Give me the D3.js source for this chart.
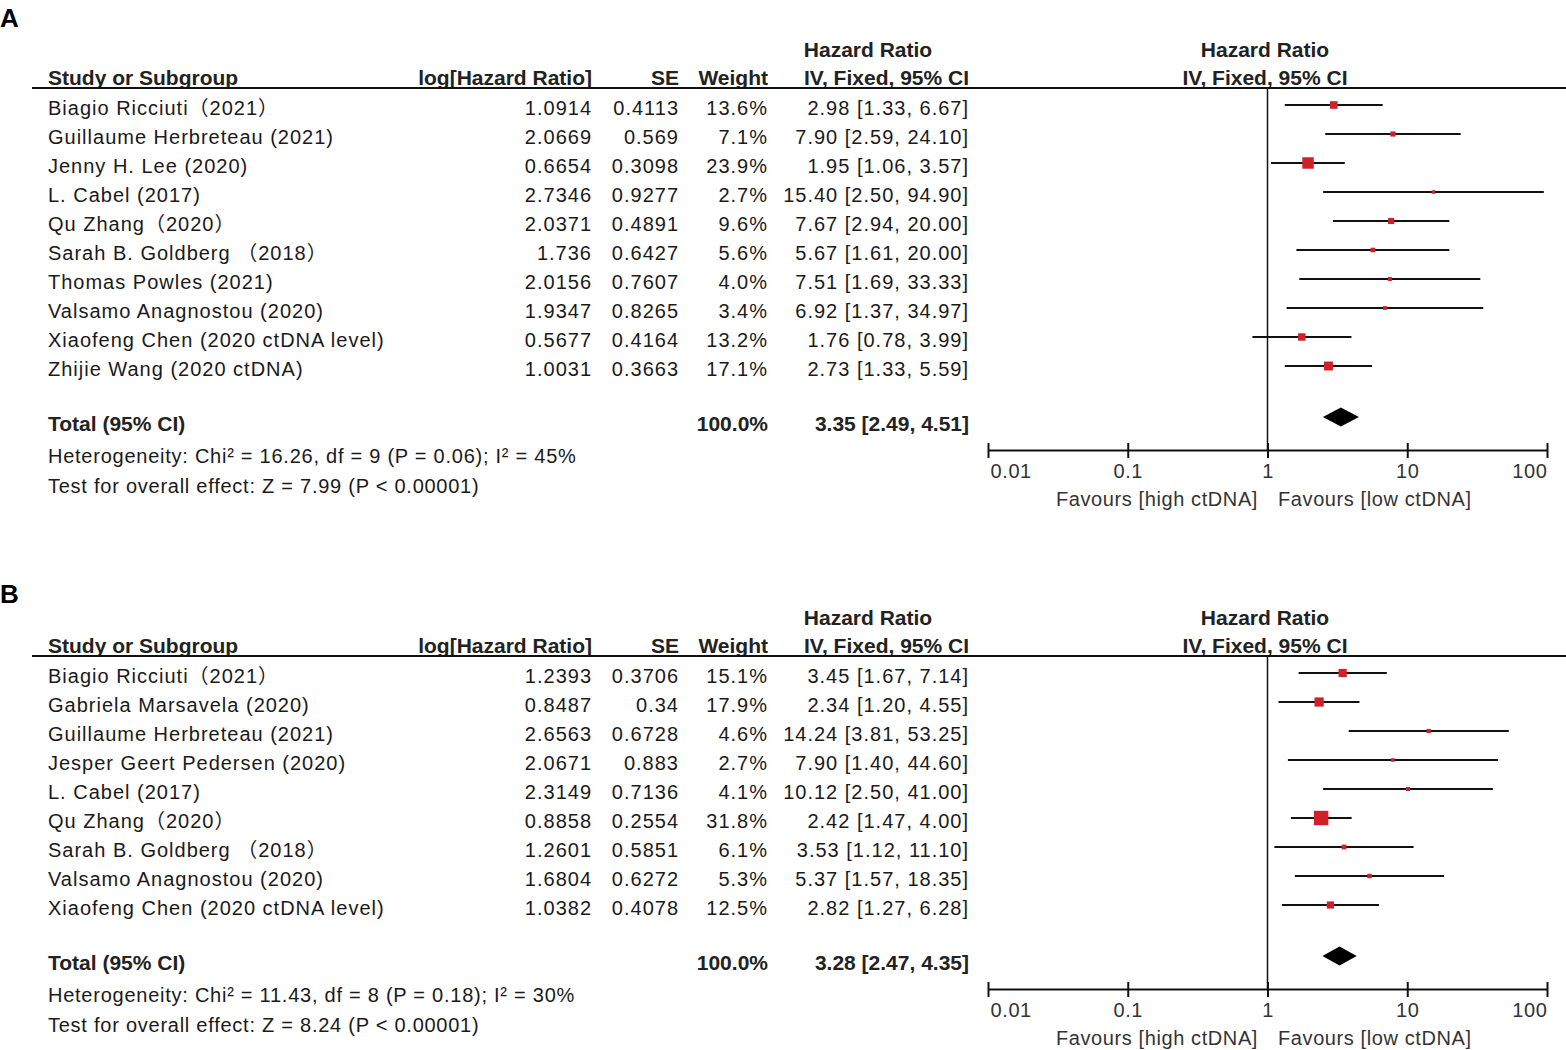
<!DOCTYPE html>
<meta charset="utf-8">
<style>
  body {
    margin: 0;
    background: #fff;
  }
  svg text {
    font-family: "Liberation Sans", Arial, "Noto Sans CJK SC", sans-serif;
  }
  .row { font-size: 20px; letter-spacing: 1px; fill: #1a1a1a; }
  .hd { font-size: 21px; font-weight: bold; fill: #222; }
  .foot { font-size: 20px; letter-spacing: 0.75px; fill: #1a1a1a; }
  .tick-lab { font-size: 20px; letter-spacing: 0.6px; fill: #333; }
</style>
<body>
  <script src="https://d3js.org/d3.v7.min.js"></script>
  <div id="chart"></div>
  <script>
    const width = 1566;
    const height = 1050;

    // ---- panel A data ----
    const studiesA = ["Biagio Ricciuti（2021）", "Guillaume Herbreteau (2021)", "Jenny H. Lee (2020)",
      "L. Cabel (2017)", "Qu Zhang（2020）", "Sarah B. Goldberg （2018）", "Thomas Powles (2021)",
      "Valsamo Anagnostou (2020)", "Xiaofeng Chen (2020 ctDNA level)", "Zhijie Wang (2020 ctDNA)"];
    const logHRA = ["1.0914", "2.0669", "0.6654", "2.7346", "2.0371", "1.736", "2.0156", "1.9347", "0.5677", "1.0031"];
    const seA = ["0.4113", "0.569", "0.3098", "0.9277", "0.4891", "0.6427", "0.7607", "0.8265", "0.4164", "0.3663"];
    const weightA = [13.6, 7.1, 23.9, 2.7, 9.6, 5.6, 4.0, 3.4, 13.2, 17.1];
    const hrA = [2.98, 7.90, 1.95, 15.40, 7.67, 5.67, 7.51, 6.92, 1.76, 2.73];
    const lowA = [1.33, 2.59, 1.06, 2.50, 2.94, 1.61, 1.69, 1.37, 0.78, 1.33];
    const highA = [6.67, 24.10, 3.57, 94.90, 20.00, 20.00, 33.33, 34.97, 3.99, 5.59];
    const totalA = [3.35, 2.49, 4.51];
    const hetA = "Heterogeneity: Chi² = 16.26, df = 9 (P = 0.06); I² = 45%";
    const testA = "Test for overall effect: Z = 7.99 (P < 0.00001)";

    // ---- panel B data ----
    const studiesB = ["Biagio Ricciuti（2021）", "Gabriela Marsavela (2020)", "Guillaume Herbreteau (2021)",
      "Jesper Geert Pedersen (2020)", "L. Cabel (2017)", "Qu Zhang（2020）", "Sarah B. Goldberg （2018）",
      "Valsamo Anagnostou (2020)", "Xiaofeng Chen (2020 ctDNA level)"];
    const logHRB = ["1.2393", "0.8487", "2.6563", "2.0671", "2.3149", "0.8858", "1.2601", "1.6804", "1.0382"];
    const seB = ["0.3706", "0.34", "0.6728", "0.883", "0.7136", "0.2554", "0.5851", "0.6272", "0.4078"];
    const weightB = [15.1, 17.9, 4.6, 2.7, 4.1, 31.8, 6.1, 5.3, 12.5];
    const hrB = [3.45, 2.34, 14.24, 7.90, 10.12, 2.42, 3.53, 5.37, 2.82];
    const lowB = [1.67, 1.20, 3.81, 1.40, 2.50, 1.47, 1.12, 1.57, 1.27];
    const highB = [7.14, 4.55, 53.25, 44.60, 41.00, 4.00, 11.10, 18.35, 6.28];
    const totalB = [3.28, 2.47, 4.35];
    const hetB = "Heterogeneity: Chi² = 11.43, df = 8 (P = 0.18); I² = 30%";
    const testB = "Test for overall effect: Z = 8.24 (P < 0.00001)";

    const tickValues = [0.01, 0.1, 1, 10, 100];
    const tickLabels = ["0.01", "0.1", "1", "10", "100"];

    const rowStep = 29;
    const x = d3.scaleLog().domain([0.01, 100]).range([988, 1547]);
    const side = d3.scaleLinear().domain([0, 32]).range([2.5, 14.5]);
    const fmt = d3.format(".2f");

    const svg = d3.select("#chart")
      .append("svg")
      .attr("width", width)
      .attr("height", height);

    function drawPanel(top, label, labelY, studies, logHR, se, weight, hr, low, high, total, het, test) {
      const g = svg.append("g").attr("transform", `translate(0,${top})`);
      const n = studies.length;
      const y = d3.scaleLinear().domain([0, n - 1]).range([105, 105 + (n - 1) * rowStep]);
      const totalY = y(n - 1) + 50;
      const axisY = totalY + 34;

      g.append("text").attr("x", 0).attr("y", labelY)
        .style("font-size", "26px").style("font-weight", "bold").text(label);

      // headers
      const h1 = [["Hazard Ratio", 868], ["Hazard Ratio", 1265]];
      g.selectAll(".h1").data(h1).join("text").attr("class", "hd")
        .attr("x", d => d[1]).attr("y", 57).attr("text-anchor", "middle").text(d => d[0]);
      const h2 = [["Study or Subgroup", 48, "start"], ["log[Hazard Ratio]", 592, "end"], ["SE", 679, "end"],
        ["Weight", 768, "end"], ["IV, Fixed, 95% CI", 969, "end"], ["IV, Fixed, 95% CI", 1265, "middle"]];
      g.selectAll(".h2").data(h2).join("text").attr("class", "hd")
        .attr("x", d => d[1]).attr("y", 85).attr("text-anchor", d => d[2]).text(d => d[0]);
      g.append("line").attr("x1", 32).attr("x2", width).attr("y1", 88).attr("y2", 88)
        .attr("stroke", "#111").attr("stroke-width", 2);

      // table rows
      const rows = g.selectAll(".r").data(studies).join("g")
        .attr("transform", (d, i) => `translate(0,${y(i) + 10})`);
      rows.append("text").attr("class", "row").attr("x", 48).text(d => d);
      rows.append("text").attr("class", "row").attr("x", 592).attr("text-anchor", "end").text((d, i) => logHR[i]);
      rows.append("text").attr("class", "row").attr("x", 679).attr("text-anchor", "end").text((d, i) => se[i]);
      rows.append("text").attr("class", "row").attr("x", 768).attr("text-anchor", "end")
        .text((d, i) => weight[i].toFixed(1) + "%");
      rows.append("text").attr("class", "row").attr("x", 969).attr("text-anchor", "end")
        .text((d, i) => `${fmt(hr[i])} [${fmt(low[i])}, ${fmt(high[i])}]`);

      // total
      g.append("text").attr("class", "hd").attr("x", 48).attr("y", totalY + 15).text("Total (95% CI)");
      g.append("text").attr("class", "hd").attr("x", 768).attr("y", totalY + 15)
        .attr("text-anchor", "end").text("100.0%");
      g.append("text").attr("class", "hd").attr("x", 969).attr("y", totalY + 15).attr("text-anchor", "end")
        .text(`${fmt(total[0])} [${fmt(total[1])}, ${fmt(total[2])}]`);
      g.append("text").attr("class", "foot").attr("x", 48).attr("y", totalY + 47).text(het);
      g.append("text").attr("class", "foot").attr("x", 48).attr("y", totalY + 77).text(test);

      // null line
      g.append("line").attr("x1", x(1)).attr("x2", x(1)).attr("y1", 88).attr("y2", axisY)
        .attr("stroke", "#111").attr("stroke-width", 1.5);

      // CIs and squares
      g.selectAll(".ci").data(studies).join("line")
        .attr("x1", (d, i) => x(low[i])).attr("x2", (d, i) => x(high[i]))
        .attr("y1", (d, i) => y(i)).attr("y2", (d, i) => y(i))
        .attr("stroke", "#111").attr("stroke-width", 2);
      g.selectAll(".sq").data(studies).join("rect")
        .attr("x", (d, i) => x(hr[i]) - side(weight[i]) / 2)
        .attr("y", (d, i) => y(i) - side(weight[i]) / 2)
        .attr("width", (d, i) => side(weight[i]))
        .attr("height", (d, i) => side(weight[i]))
        .attr("fill", "#d0202a");

      // diamond
      const cy = totalY + 1;
      g.append("path")
        .attr("d", `M${x(total[1])},${cy} L${x(total[0])},${cy - 9.5} L${x(total[2])},${cy} L${x(total[0])},${cy + 9.5} Z`)
        .attr("fill", "#000");

      // axis
      const axis = g.append("g").attr("transform", `translate(0,${axisY})`)
        .call(d3.axisBottom(x).tickValues(tickValues).tickSizeOuter(0).tickSizeInner(8)
          .tickFormat((d, i) => tickLabels[i]));
      axis.select(".domain").attr("stroke", "#111").attr("stroke-width", 2);
      axis.selectAll(".tick line").attr("y1", -7).attr("y2", 8).attr("stroke", "#111").attr("stroke-width", 2);
      axis.selectAll(".tick text").attr("class", "tick-lab").attr("y", 14)
        .attr("font-family", null).attr("font-size", null).attr("fill", null)
        .attr("text-anchor", (d, i) => i === 0 ? "start" : i === tickValues.length - 1 ? "end" : "middle")
        .attr("dx", (d, i) => i === 0 ? 2 : 0);

      g.append("text").attr("class", "tick-lab").attr("x", 1258).attr("y", axisY + 56)
        .attr("text-anchor", "end").text("Favours [high ctDNA]");
      g.append("text").attr("class", "tick-lab").attr("x", 1278).attr("y", axisY + 56)
        .text("Favours [low ctDNA]");
    }

    drawPanel(0, "A", 27, studiesA, logHRA, seA, weightA, hrA, lowA, highA, totalA, hetA, testA);
    drawPanel(568, "B", 35, studiesB, logHRB, seB, weightB, hrB, lowB, highB, totalB, hetB, testB);
  </script>
</body>
